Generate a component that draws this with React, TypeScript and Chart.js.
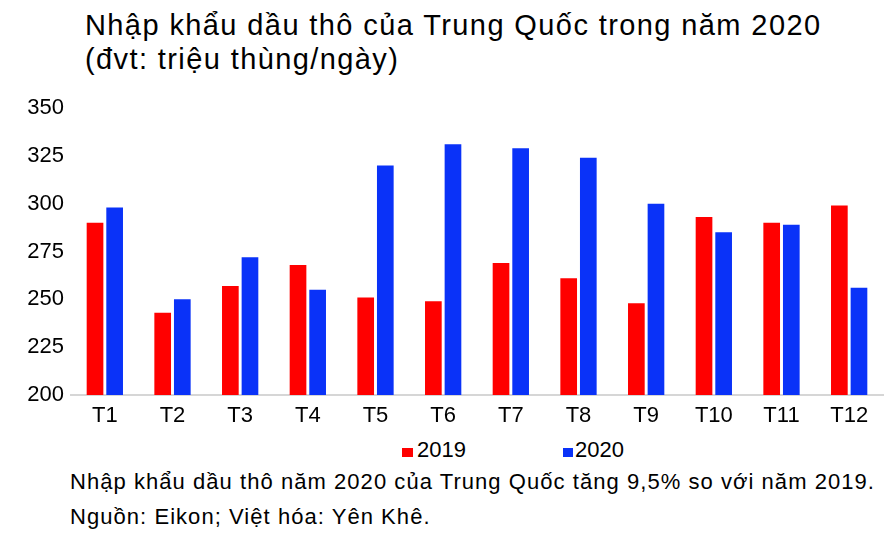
import { useEffect, useRef } from 'react';
import { Chart, registerables } from 'chart.js';

Chart.register(...registerables);

const months = ['T1', 'T2', 'T3', 'T4', 'T5', 'T6', 'T7', 'T8', 'T9', 'T10', 'T11', 'T12'];
const seriesNames = ['2019', '2020'];
const values2019 = [290, 243, 257, 268, 251, 249, 269, 261, 248, 293, 290, 299];
const values2020 = [298, 250, 272, 255, 320, 331, 329, 324, 300, 285, 289, 256];
const yTicks = [200, 225, 250, 275, 300, 325, 350];

const RED = '#ff0000';
const BLUE = '#0a32f8';
const FONT = 'Arial, "Liberation Sans", sans-serif';

export default function App() {
  const canvasRef = useRef<HTMLCanvasElement>(null);
  const chartRef = useRef<Chart | null>(null);

  useEffect(() => {
    if (!canvasRef.current) return;
    chartRef.current?.destroy();

    chartRef.current = new Chart(canvasRef.current, {
      type: 'bar',
      data: {
        labels: months,
        datasets: [
          { label: seriesNames[0], data: values2019, backgroundColor: RED, barPercentage: 0.85, categoryPercentage: 0.58 },
          { label: seriesNames[1], data: values2020, backgroundColor: BLUE, barPercentage: 0.85, categoryPercentage: 0.58 },
        ],
      },
      options: {
        responsive: true, maintainAspectRatio: false, animation: false,
        layout: { padding: { top: 108, right: 9, bottom: 5, left: 0 } },
        plugins: { legend: { display: false }, tooltip: { enabled: false } },
        scales: {
          x: {
            grid: { display: false },
            border: { display: true, color: '#d6d6d6', width: 2 },
            ticks: { color: '#000', font: { family: FONT, size: 22 }, padding: 0 },
            afterFit: (s: any) => { s.height = 30; },
          },
          y: {
            min: yTicks[0], max: yTicks[yTicks.length - 1],
            grid: { display: false, drawTicks: false },
            border: { display: false },
            afterBuildTicks: (s: any) => { s.ticks = yTicks.map(v => ({ value: v })); },
            ticks: { color: '#000', font: { family: FONT, size: 22 }, padding: 7 },
            afterFit: (s: any) => { s.width = 71; },
          },
        },
      },
    });

    return () => { chartRef.current?.destroy(); };
  }, []);

  const text = { position: 'absolute' as const, fontFamily: FONT, color: '#000', whiteSpace: 'nowrap' as const };

  return (
    <div style={{ position: 'absolute', left: 0, top: 0, width: 892, height: 536, background: '#fff', overflow: 'hidden' }}>
      <div style={{ ...text, left: 85, top: 8, fontSize: 29, lineHeight: '34px', letterSpacing: '1.4px' }}>
        Nhập khẩu dầu thô của Trung Quốc trong năm 2020<br />(đvt: triệu thùng/ngày)
      </div>

      <div style={{ position: 'absolute', left: 0, top: 0, width: 892, height: 430 }}>
        <canvas ref={canvasRef} />
      </div>

      {/* legend */}
      <div style={{ position: 'absolute', left: 402, top: 448, width: 11, height: 9, background: RED }} />
      <div style={{ ...text, left: 417, top: 437, fontSize: 22, lineHeight: '26px' }}>{seriesNames[0]}</div>
      <div style={{ position: 'absolute', left: 563, top: 448, width: 10, height: 9, background: BLUE }} />
      <div style={{ ...text, left: 575, top: 437, fontSize: 22, lineHeight: '26px' }}>{seriesNames[1]}</div>

      <div style={{ ...text, left: 70, top: 464, fontSize: 22, lineHeight: '35px', letterSpacing: '1.05px' }}>
        Nhập khẩu dầu thô năm 2020 của Trung Quốc tăng 9,5% so với năm 2019.<br />Nguồn: Eikon; Việt hóa: Yên Khê.
      </div>
    </div>
  );
}
